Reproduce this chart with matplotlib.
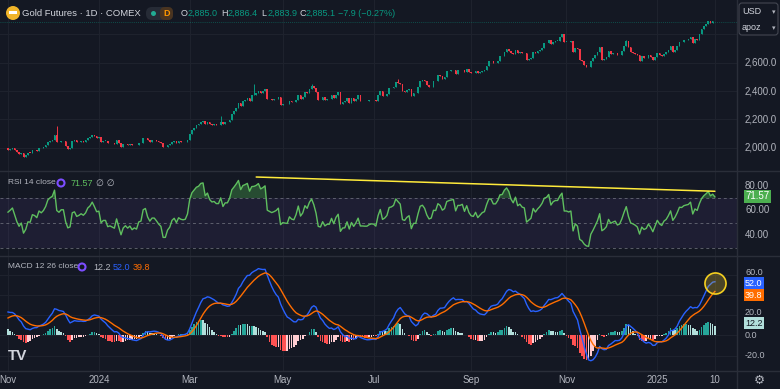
import numpy as np
import pandas as pd
import matplotlib
matplotlib.use("Agg")
import matplotlib.pyplot as plt
from matplotlib.patches import FancyBboxPatch, Circle, Rectangle
from matplotlib.transforms import IdentityTransform, blended_transform_factory

plt.rcParams['font.family'] = ['Liberation Sans', 'DejaVu Sans']

# ---------------- data ----------------
# pre-window closes (Sep-Oct 2023), used only to warm up RSI / MACD
warmup_close = [1966, 1953, 1943, 1942, 1942, 1946, 1933, 1929, 1932, 1946, 1953, 1953, 1948, 1940,
                1945, 1936, 1919, 1890, 1878, 1866,
                1847, 1841, 1835, 1832, 1845, 1875, 1874, 1887, 1883, 1941, 1934, 1934, 1968, 1980,
                1994, 1985, 1971, 1985, 1995, 2006, 2005, 1995]

close_2023_11 = [1987, 1993, 2000, 1986, 1970, 1958, 1966, 1937, 1946, 1966, 1965, 1987, 1985, 1980,
                 2000, 1996, 2003, 2016, 2041, 2050, 2057]
close_2023_12 = [2089, 2042, 2037, 2047, 2047, 2014, 1993, 1996, 2047, 2051, 2037, 2041, 2047, 2043,
                 2051, 2069, 2077, 2093, 2083, 2071]
close_2024_01 = [2073, 2043, 2050, 2050, 2033, 2035, 2032, 2029, 2051, 2030, 2006, 2023, 2029, 2022,
                 2027, 2017, 2021, 2018, 2034, 2036, 2067]
close_2024_02 = [2071, 2053, 2043, 2051, 2051, 2045, 2038, 2033, 2004, 2004, 2018, 2024, 2039, 2044,
                 2035, 2046, 2043, 2042, 2043, 2054]
close_2024_03 = [2096, 2126, 2141, 2158, 2165, 2185, 2189, 2166, 2180, 2167, 2162, 2164, 2160, 2160,
                 2181, 2165, 2178, 2178, 2195, 2238]
close_2024_04 = [2257, 2281, 2315, 2295, 2330, 2339, 2351, 2333, 2372, 2374, 2383, 2400, 2388, 2398,
                 2413, 2346, 2342, 2338, 2342, 2347, 2357, 2303]
close_2024_05 = [2311, 2309, 2308, 2331, 2324, 2322, 2340, 2375, 2345, 2358, 2393, 2385, 2417, 2438,
                 2421, 2393, 2337, 2334, 2357, 2338, 2345, 2345]
close_2024_06 = [2369, 2348, 2375, 2390, 2311, 2326, 2327, 2354, 2318, 2349, 2329, 2346, 2370, 2331,
                 2331, 2330, 2330, 2336, 2339]
close_2024_07 = [2338, 2331, 2369, 2397, 2362, 2368, 2379, 2418, 2421, 2429, 2467, 2459, 2452, 2399,
                 2396, 2409, 2416, 2364, 2386, 2386, 2428, 2473]
close_2024_08 = [2480, 2469, 2444, 2428, 2432, 2471, 2470, 2510, 2504, 2488, 2496, 2538, 2544, 2548,
                 2551, 2517, 2546, 2546, 2552, 2531, 2559, 2537]
close_2024_09 = [2526, 2524, 2541, 2524, 2534, 2544, 2548, 2580, 2611, 2610, 2598, 2598, 2614, 2646,
                 2648, 2677, 2694, 2686, 2668, 2659]
close_2024_10 = [2690, 2667, 2675, 2667, 2665, 2622, 2629, 2636, 2677, 2666, 2680, 2691, 2707, 2736,
                 2741, 2759, 2731, 2749, 2756, 2756, 2781, 2800, 2749]
close_2024_11 = [2749, 2746, 2750, 2676, 2705, 2694, 2620, 2610, 2587, 2573, 2570, 2614, 2631, 2651,
                 2674, 2712, 2618, 2626, 2639, 2681]
close_2024_12 = [2659, 2666, 2671, 2651, 2656, 2681, 2718, 2756, 2710, 2675, 2670, 2663, 2653, 2612,
                 2645, 2631, 2636, 2656, 2640, 2616, 2641]
close_2025_01 = [2669, 2652, 2644, 2664, 2672, 2690, 2715, 2676, 2692, 2716, 2749, 2748, 2759, 2763,
                 2766, 2779, 2741, 2767, 2762, 2800, 2835]
close_2025_02 = [2857, 2873, 2893, 2880, 2893, 2885.1]

last_ohlc = (2885.0, 2886.4, 2883.9, 2885.1)
spike_high = {"2023-12-04": 2150, "2024-03-21": 2225, "2024-04-12": 2448, "2024-05-20": 2452,
              "2024-07-17": 2484, "2024-10-30": 2801, "2024-12-11": 2762}

holidays = ["2023-09-04", "2023-11-23", "2023-12-25", "2024-01-01", "2024-01-15", "2024-02-19",
            "2024-03-29", "2024-05-27", "2024-06-19", "2024-07-04", "2024-09-02", "2024-11-28",
            "2024-12-25", "2025-01-01", "2025-01-20"]

tick_dates = ["2023-11-01", "2024-01-02", "2024-03-01", "2024-05-01", "2024-07-01", "2024-09-03",
              "2024-11-01", "2025-01-02", "2025-02-10"]
tick_labels = ["Nov", "2024", "Mar", "May", "Jul", "Sep", "Nov", "2025", "10"]

price_ticks = [2000, 2200, 2400, 2600]
rsi_ticks = [80, 60, 40]
macd_ticks = [60, 20, 0, -20]

ohlc_text = [("O", "2,885.0"), ("H", "2,886.4"), ("L", "2,883.9"), ("C", "2,885.1")]
change_text = "−7.9 (−0.27%)"
rsi_last_label = 71.57
macd_last = {"macd": 52.0, "signal": 39.8, "hist": 12.2}
rsi_trend = [("2024-04-15", 87.0), ("2025-02-10", 75.5)]
macd_circle = ("2025-02-10", 52.0)

# ---------------- series ----------------
closes = (close_2023_11 + close_2023_12 + close_2024_01 + close_2024_02 + close_2024_03 +
          close_2024_04 + close_2024_05 + close_2024_06 + close_2024_07 + close_2024_08 +
          close_2024_09 + close_2024_10 + close_2024_11 + close_2024_12 + close_2025_01 + close_2025_02)
all_close = np.array(warmup_close + closes, dtype=float)
all_dates = pd.bdate_range("2023-09-01", "2025-02-10")
all_dates = all_dates[~all_dates.isin(pd.to_datetime(holidays))]
assert len(all_dates) == len(all_close), (len(all_dates), len(all_close))

s = pd.Series(all_close, index=all_dates)
d = s.diff()
up = d.clip(lower=0).ewm(alpha=1 / 14, adjust=False).mean()
dn = (-d.clip(upper=0)).ewm(alpha=1 / 14, adjust=False).mean()
rsi_all = 100 - 100 / (1 + up / dn)
macd_all = s.ewm(span=12, adjust=False).mean() - s.ewm(span=26, adjust=False).mean()
sig_all = macd_all.ewm(span=9, adjust=False).mean()
hist_all = macd_all - sig_all

nw = len(warmup_close)
dates = all_dates[nw:]
c = all_close[nw:]
o = all_close[nw - 1:-1].copy()
o[-1], hi_last, lo_last, _ = last_ohlc
hi = np.maximum(o, c)
lo = np.minimum(o, c)
hi[-1], lo[-1] = hi_last, lo_last
for k, v in spike_high.items():
    j = dates.get_loc(pd.Timestamp(k))
    hi[j] = max(hi[j], v)
rsi = rsi_all.values[nw:]
macd = macd_all.values[nw:]
sig = sig_all.values[nw:]
hist = hist_all.values[nw:]
hist_prev = hist_all.values[nw - 1:-1]
idx = np.arange(len(c))


def di(date):
    return dates.get_loc(pd.Timestamp(date))


# ---------------- styling ----------------
BG = "#141823"
GRID = "#1e222d"
SEP = "#2a2e39"
TXT = "#b2b5be"
UPC = "#089981"
DNC = "#f23645"
W, H = 780, 389

fig = plt.figure(figsize=(W / 100, H / 100), dpi=100)
fig.patch.set_facecolor(BG)


def px_axes(x0, y0, x1, y1):
    a = fig.add_axes([x0 / W, 1 - y1 / H, (x1 - x0) / W, (y1 - y0) / H])
    a.set_facecolor(BG)
    for sp in a.spines.values():
        sp.set_visible(False)
    a.set_xticks([])
    a.set_yticks([])
    return a


XL = (-8 / 2.216, (737 - 8) / 2.216)
ax_p = px_axes(0, 0, 737, 171)
ax_r = px_axes(0, 171, 737, 256)
ax_m = px_axes(0, 256, 737, 371)
for a in (ax_p, ax_r, ax_m):
    a.set_xlim(*XL)
ax_p.set_ylim(1835.7, 3042.5)
ax_r.set_ylim(23.3, 91.85)
ax_m.set_ylim(-35.2, 78.8)

tick_idx = [di(t) for t in tick_dates]
for a in (ax_p, ax_r, ax_m):
    for t in tick_idx:
        a.axvline(t, color=GRID, lw=0.8, zorder=0)
for v in [2000, 2200, 2400, 2600, 2800]:
    ax_p.axhline(v, color=GRID, lw=0.8, zorder=0)
for v in macd_ticks + [40]:
    ax_m.axhline(v, color=GRID, lw=0.8, zorder=0)

# price candles
col = np.where(c >= o, UPC, DNC)
ax_p.vlines(idx, lo, hi, colors=col, lw=0.7, zorder=2)
ax_p.bar(idx, np.maximum(np.abs(c - o), 1.5), bottom=np.minimum(o, c), width=0.72,
         color=col, linewidth=0, zorder=3)
ax_p.axhline(c[-1], color=UPC, lw=0.6, alpha=0.55, ls=(0, (1, 1.5)), zorder=1)

# RSI
ax_r.axhspan(30, 70, color="#7e57c2", alpha=0.10, lw=0, zorder=0)
for v in (70, 50, 30):
    ax_r.axhline(v, color="#787b86", lw=0.7, ls=(0, (3, 3)), alpha=0.7, zorder=1)
ax_r.fill_between(idx, rsi, 70, where=rsi > 70, interpolate=True, color="#4caf50", alpha=0.35,
                  lw=0, zorder=1)
ax_r.plot(idx, rsi, color="#5fbf5f", lw=1.0, zorder=3)
(t0, r0), (t1, r1) = rsi_trend
ax_r.plot([di(t0), di(t1)], [r0, r1], color="#ffeb3b", lw=1.1, zorder=4, solid_capstyle="round")

# MACD
hcol = np.where(hist >= 0, np.where(hist > hist_prev, "#26a69a", "#b2dfdb"),
                np.where(hist < hist_prev, "#ff5252", "#ffcdd2"))
ax_m.bar(idx, hist, width=0.72, color=hcol, linewidth=0, zorder=2)
ax_m.plot(idx, macd, color="#2962ff", lw=1.0, zorder=3)
ax_m.plot(idx, sig, color="#ff6d00", lw=1.0, zorder=3)
ax_m.scatter([di(macd_circle[0])], [macd_circle[1]], s=230, facecolor=(0.95, 0.8, 0.2, 0.25),
             edgecolor="#f5d020", lw=1.2, zorder=5)

# separators
for y in (171, 256, 371):
    fig.add_artist(plt.Line2D([0, 1], [1 - y / H] * 2, color=SEP, lw=1.0))
fig.add_artist(plt.Line2D([737 / W] * 2, [1 - 389 / H, 1], color=SEP, lw=1.0))

# right scale labels
LX = 1 + 8 / 737
for v in price_ticks:
    ax_p.text(LX, v, f"{v:,.1f}", transform=ax_p.get_yaxis_transform(), color=TXT, fontsize=7,
              va="center", ha="left", clip_on=False)
for v in rsi_ticks:
    ax_r.text(LX, v, f"{v:.2f}", transform=ax_r.get_yaxis_transform(), color=TXT, fontsize=7,
              va="center", ha="left", clip_on=False)
for v in macd_ticks:
    ax_m.text(LX, v + (2.5 if v == 60 else 0) + (3 if v == 20 else 0), f"{v:.1f}",
              transform=ax_m.get_yaxis_transform(), color=TXT, fontsize=6.5,
              va="center", ha="left", clip_on=False)


def box(ax, v, s, fc, tc, fs=6.5):
    ax.text(LX, v, s, transform=ax.get_yaxis_transform(), color=tc, fontsize=fs, va="center",
            ha="left", clip_on=False, zorder=10,
            bbox=dict(boxstyle="square,pad=0.15", fc=fc, ec="none"))


box(ax_r, rsi_last_label, f"{rsi_last_label:.2f}", "#4caf50", "#ffffff", 7)
box(ax_m, macd_last["macd"], f"{macd_last['macd']:.1f}", "#2962ff", "#ffffff")
box(ax_m, macd_last["signal"], f"{macd_last['signal']:.1f}", "#ff6d00", "#ffffff")
box(ax_m, macd_last["hist"], f"{macd_last['hist']:.1f}", "#b2dfdb", "#131722")

# time axis labels
btr = blended_transform_factory(ax_m.transData, fig.transFigure)
for t, lab in zip(tick_idx, tick_labels):
    ax_m.text(t, 1 - 380 / H, lab, transform=btr, color=TXT, fontsize=7, ha="center",
              va="center", clip_on=False)
fig.text(759 / W, 1 - 380 / H, "⚙", color=TXT, fontsize=9, ha="center", va="center",
         family="DejaVu Sans")


def ptext(x, y, s, **kw):
    kw.setdefault("fontsize", 6.5)
    kw.setdefault("va", "center")
    return fig.text(x / W, 1 - y / H, s, **kw)


# title row
fig.add_artist(Circle((13, H - 13), 7, transform=IdentityTransform(), fc="#f0b429", ec="none"))
fig.add_artist(Rectangle((9, H - 14), 8, 3, transform=IdentityTransform(), fc="#ffffff", ec="none"))
ptext(22, 13, "Gold Futures · 1D · COMEX", color="#d1d4dc", fontsize=6.8)
fig.add_artist(FancyBboxPatch((146, H - 20), 27, 13, boxstyle="round,pad=0,rounding_size=6",
                              transform=IdentityTransform(), fc="#262b36", ec="none"))
fig.add_artist(FancyBboxPatch((160, H - 20), 13, 13, boxstyle="round,pad=0,rounding_size=5",
                              transform=IdentityTransform(), fc="#4a3420", ec="none"))
fig.add_artist(Circle((153.5, H - 13.5), 2.5, transform=IdentityTransform(), fc="#22ab94", ec="none"))
ptext(166.5, 13.5, "D", color="#ff9800", fontsize=6.5, ha="center", weight="bold")
for x, (k, v) in zip([181, 221, 261, 299], ohlc_text):
    ptext(x, 13, k, color="#d1d4dc")
    ptext(x + 6.5, 13, v, color=UPC)
ptext(338, 13, change_text, color=UPC)

# currency box
fig.add_artist(FancyBboxPatch((739, H - 35), 39, 32, boxstyle="round,pad=0,rounding_size=3",
                              transform=IdentityTransform(), fc=BG, ec="#434651", lw=0.8))
ptext(742, 12, "USD", color="#d1d4dc", fontsize=6.5)
ptext(742, 28, "apoz", color="#d1d4dc", fontsize=6.5)
ptext(772, 12, "▾", color=TXT, fontsize=5, family="DejaVu Sans")
ptext(772, 28, "▾", color=TXT, fontsize=5, family="DejaVu Sans")

# indicator legends
ptext(8, 183, "RSI 14 close", color=TXT, fontsize=6)
fig.add_artist(Circle((61, H - 183), 3.5, transform=IdentityTransform(), fc="none", ec="#7c4dff",
                      lw=1.5))
ptext(71, 183, "71.57", color="#5fbf5f")
ptext(96, 183, "∅ ∅", color=TXT, family="DejaVu Sans", fontsize=6.5)
ptext(8, 267, "MACD 12 26 close", color=TXT, fontsize=6)
fig.add_artist(Circle((82, H - 267), 3.5, transform=IdentityTransform(), fc="none", ec="#7c4dff",
                      lw=1.5))
ptext(93, 267, "12.2", color="#b2b5be")
ptext(113, 267, "52.0", color="#2962ff")
ptext(133, 267, "39.8", color="#ff6d00")

# logo
ptext(8, 356, "TV", color="#d1d4dc", fontsize=11, weight="bold")

fig.savefig("out.png", dpi=100, facecolor=BG)
